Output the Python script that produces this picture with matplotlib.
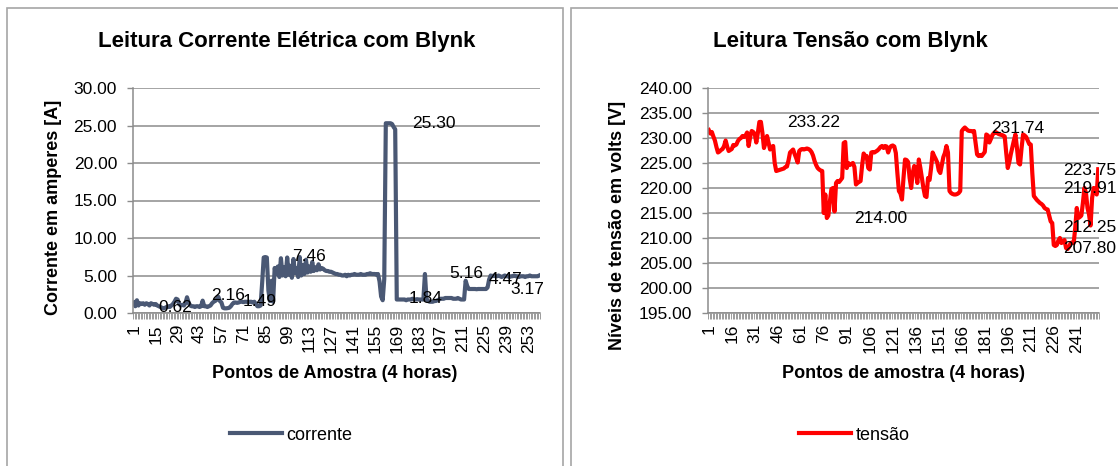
import matplotlib
matplotlib.use("Agg")
import matplotlib.pyplot as plt
import numpy as np
from matplotlib.patches import Rectangle
from matplotlib.ticker import FormatStrFormatter

plt.rcParams["font.family"] = ["Liberation Sans", "DejaVu Sans"]

# leituras de corrente (A), uma por ponto de amostra
corrente = [
    1.4, 0.9, 1.7, 1.0, 1.3, 1.2, 1.3, 1.1, 1.3, 1.2,
    1.0, 1.3, 1.2, 1.1, 1.2, 1.0, 0.9, 0.8, 0.7, 0.62,
    0.7, 0.8, 0.9, 0.8, 1.0, 1.2, 1.5, 1.9, 1.8, 1.2,
    1.0, 1.1, 1.0, 1.3, 2.1, 1.4, 1.0, 0.9, 0.9, 0.8,
    0.9, 0.9, 0.8, 0.9, 1.65, 0.9, 0.9, 0.8, 0.9, 1.0,
    1.3, 1.5, 1.6, 1.8, 2.16, 1.6, 1.4, 0.7, 0.62, 0.62,
    0.65, 0.7, 0.9, 1.2, 1.4, 1.4, 1.35, 1.4, 1.5, 1.5,
    1.45, 1.5, 1.5, 1.45, 1.49, 1.5, 1.4, 1.5, 1.2, 0.9,
    0.9, 1.0, 4.0, 7.4, 7.46, 7.4, 3.0, 1.6, 4.3, 1.5,
    6.0, 5.2, 6.2, 4.8, 7.3, 5.0, 6.1, 4.9, 7.4, 5.1,
    6.3, 4.7, 7.2, 5.3, 6.0, 4.8, 7.46, 5.0, 6.4, 5.2,
    7.1, 5.4, 6.2, 5.5, 6.8, 5.6, 6.1, 5.7, 6.5, 5.8,
    6.0, 5.9, 5.7, 5.6, 5.6, 5.5, 5.5, 5.4, 5.3, 5.2,
    5.2, 5.1, 5.1, 5.0, 5.0, 5.1, 4.9, 5.1, 5.0, 5.1,
    5.1, 5.2, 5.1, 5.1, 5.1, 5.2, 5.1, 5.1, 5.1, 5.2,
    5.2, 5.3, 5.2, 5.2, 5.2, 5.1, 5.2, 4.2, 2.2, 1.7,
    4.5, 25.3, 25.3, 25.3, 25.3, 25.2, 24.8, 24.5, 1.8, 1.8,
    1.8, 1.8, 1.8, 1.8, 1.7, 1.8, 1.8, 1.8, 1.9, 1.8,
    1.8, 1.84, 1.8, 1.8, 1.8, 1.8, 5.2, 1.8, 1.6, 1.5,
    1.5, 1.5, 1.6, 1.6, 1.7, 1.8, 1.9, 1.9, 1.9, 2.0,
    2.0, 2.0, 2.0, 2.0, 1.9, 1.9, 1.9, 2.0, 1.9, 1.8,
    1.8, 1.8, 4.3, 3.6, 3.2, 3.2, 3.2, 3.2, 3.2, 3.17,
    3.2, 3.2, 3.2, 3.2, 3.2, 3.2, 3.4, 4.47, 5.0, 4.9,
    5.0, 4.9, 4.9, 5.0, 4.9, 4.8, 4.9, 5.0, 4.9, 4.9,
    4.8, 4.9, 4.9, 5.0, 4.9, 4.9, 4.8, 4.9, 4.9, 4.9,
    4.8, 4.9, 4.9, 5.0, 4.9, 4.9, 4.9, 4.9, 4.9, 5.0,
]

# leituras de tensão (V)
tensao = [
    231.6, 230.9, 231.2, 230.3, 229.5, 228.2, 227.1, 227.3, 227.6, 227.8,
    228.4, 229.5, 228.3, 227.4, 227.6, 227.8, 228.6, 228.5, 228.7, 229.4,
    229.8, 230.0, 230.4, 230.2, 230.5, 231.1, 228.4, 230.2, 231.4, 231.2,
    230.8, 229.1, 231.0, 233.2, 233.22, 231.0, 228.0, 229.0, 230.4, 229.0,
    227.7, 228.2, 228.4, 225.0, 223.4, 223.5, 223.6, 223.7, 223.8, 223.9,
    224.2, 224.3, 225.5, 227.1, 227.4, 227.7, 226.8, 226.0, 225.1, 227.4,
    227.7, 227.8, 227.7, 227.8, 227.9, 227.8, 227.6, 227.2, 226.5, 225.4,
    224.6, 224.0, 223.7, 223.5, 223.4, 215.0, 218.7, 214.0, 214.5, 217.3,
    219.8, 220.0, 215.3, 221.0, 221.4, 221.2, 221.6, 222.0, 229.0, 229.2,
    224.0, 225.0, 224.6, 224.8, 225.0, 224.2, 220.7, 221.0, 221.2, 221.4,
    224.5, 226.9, 226.4, 226.4, 224.0, 223.7, 227.1, 227.2, 227.1, 227.3,
    227.5, 227.8, 228.2, 228.4, 228.0, 228.4, 228.3, 227.1, 228.0, 228.4,
    228.5, 228.3, 227.0, 223.0, 219.4, 218.9, 217.7, 222.0, 225.7, 225.6,
    225.2, 222.0, 220.0, 223.0, 224.4, 224.0, 221.0, 225.7, 224.0, 222.0,
    220.0, 218.4, 218.2, 222.0, 221.6, 224.0, 227.1, 226.4, 225.8, 225.1,
    223.5, 223.0, 224.6, 226.2, 227.0, 228.4, 227.1, 219.4, 219.0, 218.8,
    218.7, 218.7, 218.8, 219.0, 219.4, 231.4, 231.8, 232.1, 231.8, 231.5,
    231.4, 231.4, 231.3, 231.4, 229.0, 226.7, 226.4, 226.6, 226.4, 226.8,
    227.2, 230.7, 230.5, 229.1, 229.8, 230.6, 231.0, 231.2, 231.0, 230.8,
    230.7, 230.6, 230.5, 230.3, 227.0, 224.0, 225.2, 226.8, 228.2, 229.5,
    230.7, 228.0, 225.0, 224.7, 228.0, 230.7, 230.5, 230.2, 229.5, 228.8,
    228.7, 223.0, 218.4, 218.0, 217.6, 217.3, 217.0, 216.8, 216.5, 216.0,
    215.8, 215.7, 214.5, 213.3, 213.0, 208.6, 208.4, 208.6, 209.5, 210.0,
    209.0, 209.3, 209.6, 208.0, 207.8, 208.2, 209.0, 209.1, 209.0, 212.0,
    216.0, 214.0, 214.2, 214.5, 217.0, 220.0, 219.0, 216.0, 214.7, 212.5,
    218.0, 220.0, 219.91, 218.7, 223.75,
]

# rótulos de dados mostrados no gráfico
rotulos_corrente = [0.62, 2.16, 1.49, 7.46, 25.30, 1.84, 5.16, 4.47, 3.17]
rotulos_tensao = [233.22, 214.00, 231.74, 223.75, 219.91, 212.25, 207.80]

W, H = 1118, 466
fig = plt.figure(figsize=(W / 100, H / 100), dpi=100)

GRID = "#8c8c8c"


def fx(x):
  return x / W


def fy(y):
  return 1 - y / H


# molduras das duas áreas de gráfico
for x0, x1 in [(7, 563), (571, 1140)]:
  fig.add_artist(Rectangle((fx(x0), -0.1), fx(x1 - x0), fy(8) + 0.1,
                           transform=fig.transFigure, fill=False,
                           ec="#a6a6a6", lw=1.2))


def draw_chart(box, values, color, name, ylim, step, every, labels, label_pos,
               title, tx, xlabel, xlx, ylabel, ylx, leg_x, label_ha):
  ax = fig.add_axes(box)
  n = len(values)
  x = np.arange(1, n + 1)
  ax.plot(x, values, color=color, lw=3.0, solid_joinstyle="round", label=name)
  ax.set_xlim(0.5, n + 0.5)
  ax.set_ylim(*ylim)
  ax.set_yticks(np.arange(ylim[0], ylim[1] + step / 2, step))
  ax.yaxis.set_major_formatter(FormatStrFormatter("%.2f"))
  ax.set_xticks(np.arange(1, n + 1, every))
  ax.set_xticks(np.arange(0.5, n + 1, 1), minor=True)
  ax.tick_params(axis="x", which="major", length=0, pad=8,
                 labelrotation=90, labelsize=12.5)
  ax.tick_params(axis="x", which="minor", length=4, width=0.6, color=GRID)
  ax.tick_params(axis="y", length=4.5, width=1, color=GRID, pad=7,
                 labelsize=12.5)
  ax.grid(axis="y", color=GRID, lw=1.1)
  ax.set_axisbelow(True)
  for s in ["top", "right"]:
    ax.spines[s].set_visible(False)
  for s in ["left", "bottom"]:
    ax.spines[s].set_color(GRID)
    ax.spines[s].set_linewidth(1.1)

  for v, (lx, ly) in zip(labels, label_pos):
    ax.text(lx, ly, f"{v:.2f}", fontsize=12.5, ha=label_ha, va="center",
            clip_on=False)

  fig.text(fx(tx), fy(42), title, fontsize=16, fontweight="bold",
           ha="center", va="center")
  fig.text(fx(xlx), fy(373), xlabel, fontsize=13, fontweight="bold",
           ha="center", va="center")
  fig.text(fx(ylx[0]), fy(ylx[1]), ylabel, fontsize=13, fontweight="bold",
           ha="center", va="center", rotation=90)
  ax.legend(loc="center", bbox_to_anchor=(fx(leg_x), fy(435)),
            bbox_transform=fig.transFigure, frameon=False, fontsize=13,
            handlelength=2.9, handletextpad=0.25)
  return ax


draw_chart([fx(133), fy(313), fx(407), 225 / H], corrente, "#4a5874",
           "corrente", (0, 30), 5, 14, rotulos_corrente,
           [(27.3, 0.67), (61.2, 2.4), (81.6, 1.47), (113, 7.47),
            (192.8, 25.33), (187.1, 1.87), (213.3, 5.2), (238.2, 4.53),
            (252.3, 3.2)],
           "Leitura Corrente Elétrica com Blynk", 287,
           "Pontos de Amostra (4 horas)", 335, "Corrente em amperes [A]",
           (54, 207), 291, "center")

draw_chart([fx(708), fy(313), fx(391), 225 / H], tensao, "#ff0000",
           "tensão", (195, 240), 5, 15, rotulos_tensao,
           [(52, 233.2), (96, 214.0), (185, 232.0), (232.1, 223.6),
            (232.1, 220.0), (232.1, 212.2), (232.1, 208.0)],
           "Leitura Tensão com Blynk", 850,
           "Pontos de amostra (4 horas)", 903,
           "Níveis de tensão em volts [V]", (618, 225), 854, "left")

fig.savefig("out.png", dpi=100)
